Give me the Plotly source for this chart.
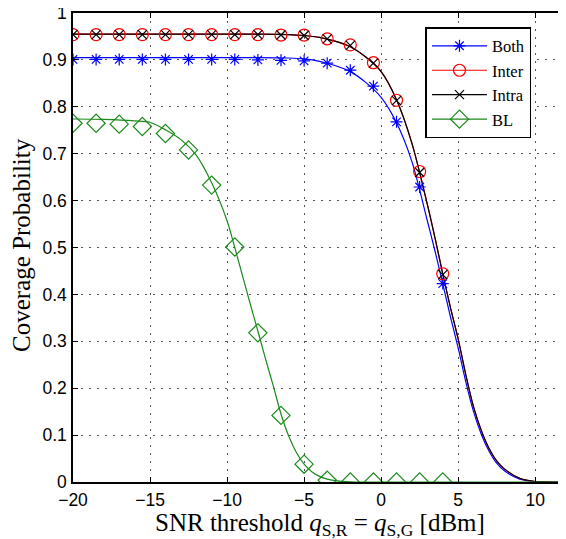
import plotly.graph_objects as go

# Simulation markers
x_sim = [-20, -18.5, -17, -15.5, -14, -12.5, -11, -9.5, -8, -6.5, -5, -3.5, -2, -0.5, 1, 2.5, 4]
both_sim = [0.901, 0.901, 0.901, 0.901, 0.901, 0.901, 0.901, 0.901, 0.900, 0.899, 0.898, 0.893, 0.878, 0.844, 0.768, 0.629, 0.423]
inter_sim = [0.954, 0.954, 0.954, 0.954, 0.954, 0.954, 0.954, 0.954, 0.954, 0.953, 0.953, 0.945, 0.932, 0.894, 0.814, 0.662, 0.444]
intra_sim = [0.954, 0.954, 0.954, 0.954, 0.954, 0.954, 0.954, 0.954, 0.954, 0.953, 0.952, 0.945, 0.931, 0.893, 0.813, 0.660, 0.442]
bl_x_sim = [-20, -18.5, -17, -15.5, -14, -12.5, -11, -9.5, -8, -6.5, -5, -3.5, -2, -0.5, 1, 2.5, 4]
bl_sim = [0.765, 0.765, 0.763, 0.758, 0.743, 0.708, 0.633, 0.501, 0.318, 0.142, 0.038, 0.004, 0.0, 0.0, 0.0, 0.0, 0.0]

# Analytical curves
x_ana = [-20, -15, -10, -8, -6, -5, -4, -3, -2, -1, 0, 1, 2, 3, 3.5, 4, 4.5, 5, 5.5, 6, 6.5, 7, 7.5, 8, 9, 10, 11, 12]
inter_ana = [0.955, 0.955, 0.955, 0.955, 0.954, 0.952, 0.948, 0.940, 0.928, 0.906, 0.875, 0.815, 0.722, 0.592, 0.52, 0.444, 0.372, 0.305, 0.228, 0.160, 0.110, 0.072, 0.045, 0.028, 0.008, 0.001, 0.0, 0.0]
intra_ana = [0.955, 0.955, 0.955, 0.955, 0.954, 0.952, 0.948, 0.940, 0.928, 0.906, 0.875, 0.815, 0.722, 0.592, 0.52, 0.444, 0.372, 0.305, 0.228, 0.160, 0.110, 0.072, 0.045, 0.028, 0.008, 0.001, 0.0, 0.0]
both_ana = [0.905, 0.905, 0.905, 0.905, 0.904, 0.902, 0.897, 0.888, 0.875, 0.852, 0.820, 0.766, 0.683, 0.557, 0.492, 0.423, 0.352, 0.286, 0.213, 0.150, 0.102, 0.066, 0.040, 0.024, 0.006, 0.001, 0.0, 0.0]
bl_x_ana = [-20, -18, -16, -15, -14, -13, -12, -11, -10, -9.5, -9, -8.5, -8, -7.5, -7, -6.5, -6, -5.5, -5, -4.5, -4, -3.5, -3, -2, -1, 0, 12]
bl_ana = [0.774, 0.773, 0.770, 0.767, 0.751, 0.730, 0.697, 0.638, 0.557, 0.500, 0.440, 0.380, 0.322, 0.262, 0.205, 0.145, 0.098, 0.063, 0.038, 0.022, 0.012, 0.006, 0.003, 0.0005, 0.0, 0.0, 0.0]

x_ticks = [-20, -15, -10, -5, 0, 5, 10]
x_tick_text = ["\u221220", "\u221215", "\u221210", "\u22125", "0", "5", "10"]
y_ticks = [0, 0.1, 0.2, 0.3, 0.4, 0.5, 0.6, 0.7, 0.8, 0.9, 1]
y_tick_text = ["0", "0.1", "0.2", "0.3", "0.4", "0.5", "0.6", "0.7", "0.8", "0.9", "1"]

x_title = "SNR threshold <i>q</i><sub>S,R</sub> = <i>q</i><sub>S,G</sub> [dBm]"
y_title = "Coverage Probability"

BLUE = "#0000ff"
RED = "#ff0000"
BLACK = "#000000"
GREEN = "#1a8a1a"

series = [
    ("Both", BLUE, "asterisk-open", 10, x_ana, both_ana, x_sim, both_sim),
    ("Inter", RED, "circle-open", 12, x_ana, inter_ana, x_sim, inter_sim),
    ("Intra", BLACK, "x-thin-open", 9, x_ana, intra_ana, x_sim, intra_sim),
    ("BL", GREEN, "diamond-open", 14, bl_x_ana, bl_ana, bl_x_sim, bl_sim),
]

fig = go.Figure()
for name, col, sym, sz, xa, ya, xs, ys in series:
    fig.add_trace(go.Scatter(x=xa, y=ya, mode="lines", line=dict(color=col, width=1.2, shape="spline", smoothing=0.8),
                             showlegend=False, hoverinfo="skip"))
for name, col, sym, sz, xa, ya, xs, ys in series:
    fig.add_trace(go.Scatter(x=xs, y=ys, mode="markers",
                             marker=dict(symbol=sym, size=sz, color=col, line=dict(color=col, width=1.2)),
                             showlegend=False))
for name, col, sym, sz, xa, ya, xs, ys in series:
    fig.add_trace(go.Scatter(x=[None], y=[None], mode="lines+markers", name=name,
                             line=dict(color=col, width=1.2),
                             marker=dict(symbol=sym, size=sz, color=col, line=dict(color=col, width=1.2))))

axis_common = dict(
    showline=True, linecolor="black", linewidth=1.5, mirror="ticks",
    ticks="inside", ticklen=5, tickcolor="black",
    showgrid=True, gridcolor="#555555", gridwidth=1, griddash="2px,6px",
    zeroline=False, automargin=False, ticklabeloverflow="allow",
    tickfont=dict(family="Liberation Sans, Arial", size=17.5, color="black"),
)

fig.update_xaxes(range=[-20, 12], tickvals=x_ticks, ticktext=x_tick_text, ticklabelstandoff=1, **axis_common)
fig.update_yaxes(range=[0, 1], tickvals=y_ticks, ticktext=y_tick_text, ticklabelstandoff=1, **axis_common)

title_font = dict(family="Liberation Serif, Times New Roman", size=25, color="black")
fig.add_annotation(text=x_title, xref="paper", yref="paper", x=0.5, y=-0.091,
                   xanchor="center", yanchor="middle", showarrow=False, font=title_font)
fig.add_annotation(text=y_title, xref="paper", yref="paper", x=-0.106, y=0.505, textangle=-90,
                   xanchor="center", yanchor="middle", showarrow=False, font=title_font)

# page body has an 8px margin; size the figure so the plot lands where the reference has it
fig.update_layout(
    width=558, height=531,
    margin=dict(l=65, r=0, t=5, b=57),
    plot_bgcolor="white", paper_bgcolor="white",
    legend=dict(x=0.715, y=0.97, xanchor="left", yanchor="top",
                bgcolor="white", bordercolor="black", borderwidth=1.5,
                font=dict(family="Liberation Serif, Times New Roman", size=16.5, color="black"),
                tracegroupgap=0, itemwidth=55),
)

fig.write_html("out.html")
